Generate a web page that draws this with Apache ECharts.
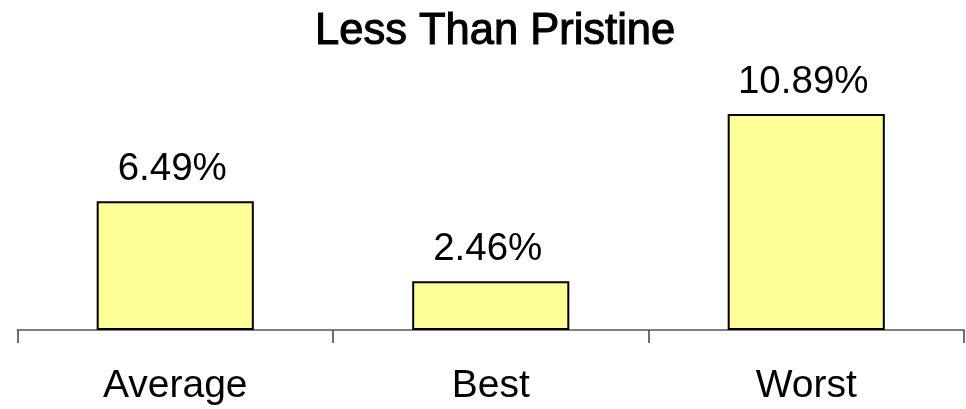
<!DOCTYPE html>
<html>
<head>
<meta charset="utf-8">
<script src="https://cdn.jsdelivr.net/npm/echarts@6/dist/echarts.min.js"></script>
<style>
  html, body { margin: 0; padding: 0; background: #ffffff; }
  #chart { width: 966px; height: 409px; }
</style>
</head>
<body>
<div id="chart"></div>
<script>
// Share of units rated less than pristine, by case
const titleText = 'Less Than Pristine';
const categories = ['Average', 'Best', 'Worst'];
const values = [6.49, 2.46, 10.89];

const chart = echarts.init(document.getElementById('chart'), null, { renderer: 'canvas' });

chart.setOption({
  animation: false,
  backgroundColor: '#ffffff',
  title: {
    text: titleText,
    left: 310,
    top: 5,
    textStyle: {
      fontFamily: 'Liberation Sans, Arial, sans-serif',
      fontWeight: 'normal',
      fontSize: 43.5,
      color: '#000000',
      // slightly thickened strokes for a heavy but compact heading
      textBorderColor: '#000000',
      textBorderWidth: 1.1
    }
  },
  grid: {
    left: 17.5,
    right: 2,
    top: 92,
    bottom: 79,
    containLabel: false
  },
  xAxis: {
    type: 'category',
    data: categories,
    axisLine: { show: true, lineStyle: { color: '#808080', width: 2 } },
    axisTick: { show: true, length: 13, lineStyle: { color: '#404040', width: 1.5 } },
    axisLabel: {
      margin: 37,
      fontFamily: 'Liberation Sans, Arial, sans-serif',
      fontSize: 39,
      color: '#000000'
    }
  },
  yAxis: {
    type: 'value',
    min: 0,
    max: 12,
    show: false,
    splitLine: { show: false }
  },
  series: [{
    type: 'bar',
    data: values,
    barWidth: '49.8%',
    itemStyle: {
      color: '#FFFF99',
      borderColor: '#000000',
      borderWidth: 2
    },
    label: {
      show: true,
      position: 'top',
      distance: 12,
      offset: [-3, 0],
      fontFamily: 'Liberation Sans, Arial, sans-serif',
      fontSize: 38.5,
      color: '#000000',
      formatter: p => p.value.toFixed(2) + '%'
    }
  }]
});
</script>
</body>
</html>
